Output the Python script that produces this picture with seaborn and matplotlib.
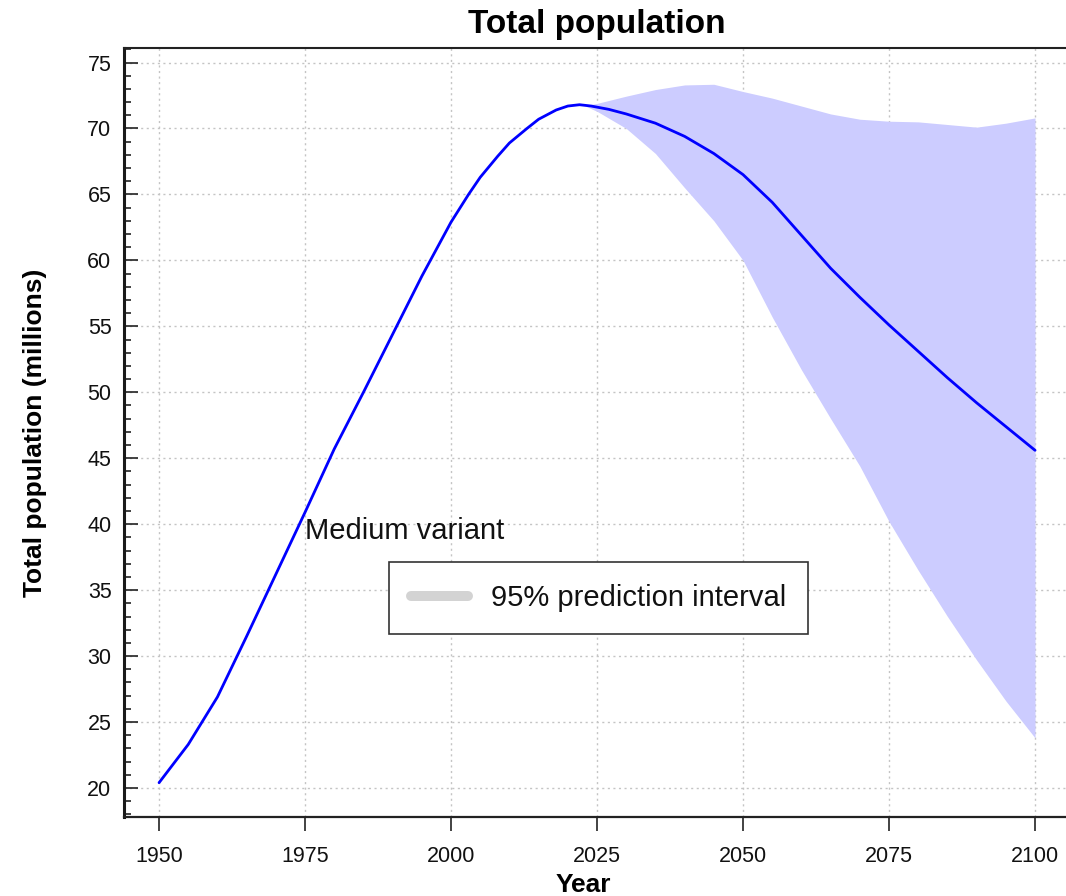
import matplotlib
matplotlib.use("Agg")
import matplotlib.pyplot as plt
from matplotlib.lines import Line2D
from matplotlib.ticker import MultipleLocator
import seaborn as sns
import pandas as pd

# Medium variant (millions)
years = [1950, 1955, 1960, 1965, 1970, 1975, 1980, 1985, 1990, 1995, 2000,
         2003, 2005, 2008, 2010, 2013, 2015, 2018, 2020, 2022, 2024, 2027,
         2030, 2035, 2040, 2045, 2050, 2055, 2060, 2065, 2070, 2075, 2080,
         2085, 2090, 2095, 2100]
medium = [20.4, 23.3, 26.9, 31.5, 36.2, 40.9, 45.7, 50.0, 54.4, 58.8, 62.9,
          65.0, 66.3, 67.9, 68.9, 70.0, 70.7, 71.4, 71.7, 71.8, 71.7, 71.45,
          71.1, 70.4, 69.4, 68.1, 66.5, 64.4, 61.9, 59.4, 57.2, 55.1, 53.1,
          51.1, 49.2, 47.4, 45.6]

# 95% prediction interval
pi_years = [2023, 2025, 2030, 2035, 2040, 2045, 2050, 2055, 2060, 2065, 2070,
            2075, 2080, 2085, 2090, 2095, 2100]
pi_upper = [71.75, 71.9, 72.45, 72.95, 73.3, 73.35, 72.8, 72.3, 71.7, 71.1, 70.7,
            70.55, 70.5, 70.3, 70.1, 70.4, 70.8]
pi_lower = [71.7, 71.3, 70.0, 68.1, 65.5, 63.0, 60.0, 55.7, 51.7, 48.0, 44.4,
            40.2, 36.5, 33.0, 29.7, 26.6, 23.8]

title = "Total population"
ylabel = "Total population (millions)"
xlabel = "Year"
line_label = "Medium variant"
legend_label = "95% prediction interval"
xticks = [1950, 1975, 2000, 2025, 2050, 2075, 2100]

sns.set_style("ticks")
plt.rcParams["font.family"] = ["Liberation Sans", "DejaVu Sans"]
plt.rcParams["text.color"] = "black"
plt.rcParams["axes.labelcolor"] = "black"

fig = plt.figure(figsize=(10.66, 8.96), dpi=100)
ax = fig.add_axes([124 / 1066, 1 - 817 / 896, 942 / 1066, 769 / 896])

ax.fill_between(pi_years, pi_lower, pi_upper, color="#ccccff", lw=0, zorder=1)
df = pd.DataFrame({"Year": years, "Population": medium})
sns.lineplot(data=df, x="Year", y="Population", ax=ax, color="#0000ff",
             lw=2.0, zorder=3)

ax.set_xlim(1944, 2105.3)
ax.set_ylim(17.8, 76.1)
ax.set_xticks(xticks)
ax.yaxis.set_major_locator(MultipleLocator(5))
ax.yaxis.set_minor_locator(MultipleLocator(1))

ax.grid(True, which="major", color="#c4c4c4", linestyle=(0, (1.5, 2.5)), lw=1.0)
ax.set_axisbelow(True)

ax.spines["right"].set_visible(False)
ax.spines["left"].set_linewidth(2.2)
ax.spines["left"].set_color("#1a1a1a")
ax.spines["top"].set_linewidth(1.5)
ax.spines["top"].set_color("#222222")
ax.spines["bottom"].set_linewidth(1.6)
ax.spines["bottom"].set_color("#222222")

ax.tick_params(axis="y", which="major", direction="in", length=10, width=1.2,
               labelsize=15.5, pad=9, color="#222222", labelcolor="#111111",
               left=True, right=False)
ax.tick_params(axis="y", which="minor", direction="in", length=5, width=1.2,
               color="#222222")
ax.tick_params(axis="x", which="major", direction="out", length=10, width=1.2,
               labelsize=15.5, pad=11, color="#222222", labelcolor="#111111",
               top=False)

ax.set_title(title, fontsize=24, fontweight="bold", pad=11,
             x=(597 - 124) / 942, color="black")
ax.set_ylabel(ylabel, fontsize=19, fontweight="bold")
ax.yaxis.set_label_coords(-0.0817, 0.5)
ax.set_xlabel(xlabel, fontsize=19, fontweight="bold")
ax.xaxis.set_label_coords(0.488, -0.073)

ax.text(1975, 38.9, line_label, fontsize=21, ha="left", va="baseline",
        color="#111111")

handle = Line2D([], [], color="#d3d3d3", lw=7.2, solid_capstyle="round")
leg = ax.legend([handle], [legend_label], loc="upper left",
                bbox_to_anchor=(389 / 1066, 1 - 562 / 896),
                bbox_transform=fig.transFigure, fontsize=21, frameon=True,
                fancybox=False, borderpad=0.75, handlelength=1.95,
                handletextpad=0.8, borderaxespad=0)
leg.get_frame().set_edgecolor("#333333")
leg.get_frame().set_linewidth(1.2)
leg.get_frame().set_facecolor("white")
leg.get_frame().set_alpha(1)
for t in leg.get_texts():
    t.set_color("#111111")

fig.savefig("out.png", dpi=100)
